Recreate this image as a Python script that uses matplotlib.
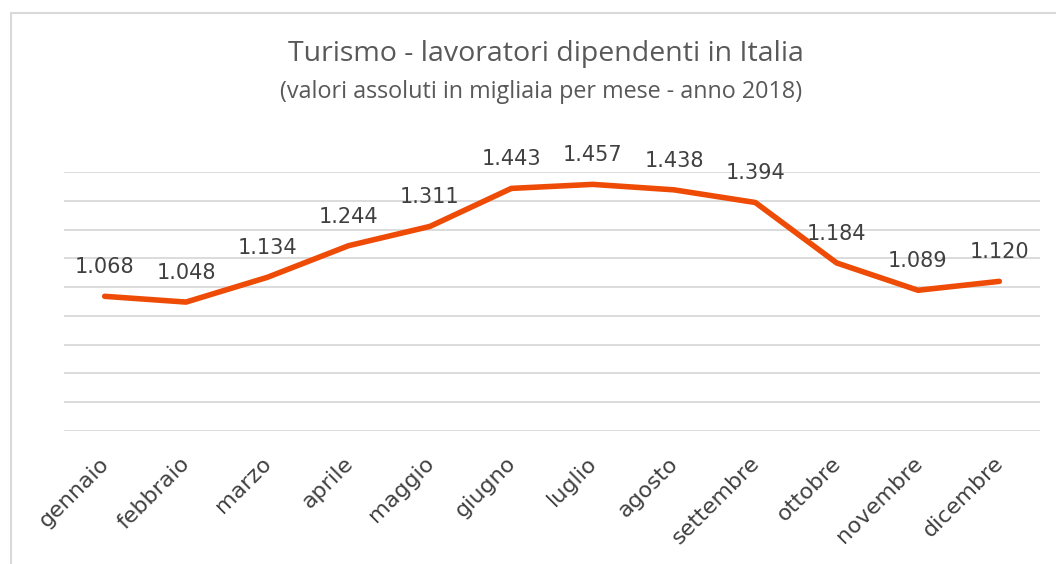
import matplotlib
matplotlib.use("Agg")
import matplotlib.pyplot as plt
from matplotlib.patches import Rectangle
from matplotlib.transforms import ScaledTranslation

months = ["gennaio", "febbraio", "marzo", "aprile", "maggio", "giugno",
          "luglio", "agosto", "settembre", "ottobre", "novembre", "dicembre"]
values = [1.068, 1.048, 1.134, 1.244, 1.311, 1.443, 1.457, 1.438, 1.394, 1.184, 1.089, 1.120]
labels = ["1.068", "1.048", "1.134", "1.244", "1.311", "1.443",
          "1.457", "1.438", "1.394", "1.184", "1.089", "1.120"]

W, H = 1056, 564
fig = plt.figure(figsize=(W / 100, H / 100), dpi=100)
fig.patch.set_facecolor("white")

# chart border (cropped at right and bottom)
fig.patches.append(Rectangle((11 / W, -0.1), 1.2, (H - 13) / H + 0.1,
                             transform=fig.transFigure, fill=False,
                             edgecolor="#D9D9D9", linewidth=1.5))

ax = fig.add_axes([64 / W, (H - 431) / H, (1040 - 64) / W, (431 - 172) / H])
x = list(range(len(months)))
ax.plot(x, values, color="#EE4B06", linewidth=4, solid_joinstyle="round",
        solid_capstyle="round", zorder=3)
ax.set_xlim(-0.5, len(months) - 0.5)
ax.set_ylim(0.6, 1.5)
ax.set_yticks([0.6 + 0.1 * i for i in range(10)])
ax.yaxis.grid(True, color="#D9D9D9", linewidth=1.3)
ax.set_axisbelow(True)
ax.tick_params(axis="y", length=0, labelleft=False)
ax.tick_params(axis="x", length=0, pad=16)
for s in ax.spines.values():
    s.set_visible(False)
ax.set_xticks(x)
ax.set_xticklabels(months, rotation=45, ha="right", va="top",
                   rotation_mode="anchor", fontsize=16, color="#404040",
                   family="DejaVu Sans")
shift = ScaledTranslation(-0.06, 0, fig.dpi_scale_trans)
for t in ax.get_xticklabels():
    t.set_transform(t.get_transform() + shift)

for xi, v, lab in zip(x, values, labels):
    ax.annotate(lab, (xi, v), xytext=(0, 21), textcoords="offset points",
                ha="center", va="center", fontsize=15, color="#404040",
                family="DejaVu Sans")

fig.text((287 + 805) / 2 / W, 1 - 54 / H, "Turismo - lavoratori dipendenti in Italia",
         ha="center", va="center", fontsize=20.5, color="#595959", family="Open Sans")
fig.text((279 + 803) / 2 / W, 1 - 92 / H, "(valori assoluti in migliaia per mese - anno 2018)",
         ha="center", va="center", fontsize=16.8, color="#595959", family="Open Sans")

fig.savefig("out.png", dpi=100)
